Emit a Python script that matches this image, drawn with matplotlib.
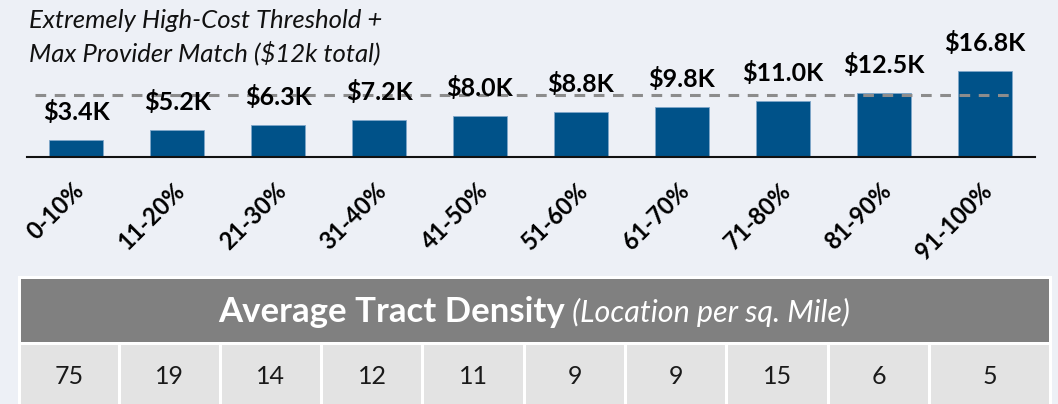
import numpy as np
import matplotlib.pyplot as plt
from matplotlib.patches import Rectangle

plt.rcParams['font.family'] = ['Lato', 'DejaVu Sans']

categories = ['0-10%', '11-20%', '21-30%', '31-40%', '41-50%',
              '51-60%', '61-70%', '71-80%', '81-90%', '91-100%']
support_k = [3.4, 5.2, 6.3, 7.2, 8.0, 8.8, 9.8, 11.0, 12.5, 16.8]
value_labels = ['$3.4K', '$5.2K', '$6.3K', '$7.2K', '$8.0K',
                '$8.8K', '$9.8K', '$11.0K', '$12.5K', '$16.8K']
threshold_k = 12
density = [75, 19, 14, 12, 11, 9, 9, 15, 6, 5]

W, H = 1058, 404
bg = '#EDF0F6'
bar_col = '#005289'

fig = plt.figure(figsize=(W / 100, H / 100), dpi=100, facecolor=bg)

# table layer in pixel coordinates (drawn first, underneath)
tab = fig.add_axes([0, 0, 1, 1])
tab.set_xlim(0, W)
tab.set_ylim(H, 0)
tab.axis('off')
tab.add_patch(Rectangle((18, 276), 1034, 140, facecolor='white', edgecolor='none'))
tab.add_patch(Rectangle((21, 279), 1028, 63, facecolor='#808080', edgecolor='none'))
edges = np.r_[21, 119 + 101.3 * np.arange(9), 1049]
for i, d in enumerate(density):
    x0 = edges[i] + (1.5 if i > 0 else 0)
    x1 = edges[i + 1] - (1.5 if i < len(density) - 1 else 0)
    tab.add_patch(Rectangle((x0, 345), x1 - x0, 70, facecolor='#E3E3E3', edgecolor='none'))
    tab.text((x0 + x1) / 2, 377, str(d), ha='center', va='center', fontsize=18, color='#1a1a1a')

t1 = tab.text(0, 312, 'Average Tract Density', ha='left', va='center',
              fontsize=25, fontweight='bold', color='white')
t2 = tab.text(0, 312, ' (Location per sq. Mile)', ha='left', va='center',
              fontsize=22, fontstyle='italic', color='white')
fig.canvas.draw()
r = fig.canvas.get_renderer()
w1 = t1.get_window_extent(r).width
w2 = t2.get_window_extent(r).width
start = 534 - (w1 + w2) / 2
t1.set_x(start)
t2.set_x(start + w1)

# bar chart
ax = fig.add_axes([27 / W, (H - 157) / H, (1035 - 27) / W, 157 / H])
ax.set_facecolor('none')
x = np.arange(len(categories))
ax.bar(x, support_k, width=0.535, color=bar_col, edgecolor='#7FA6C9', linewidth=0.6, zorder=2)
ax.set_xlim(-0.488, 9.5)
ax.set_ylim(0, 157 / 5.13)
ax.plot([-0.41, 9.27], [threshold_k, threshold_k], color='#8C8C8C', lw=2.2,
        ls=(0, (3.5, 2.8)), zorder=3)
for xi, v, lab in zip(x, support_k, value_labels):
    ax.annotate(lab, (xi, v), xytext=(0, 16), textcoords='offset pixels',
                ha='center', va='bottom', fontsize=18, fontweight='bold',
                color='black', annotation_clip=False, zorder=4)
for xi, lab in zip(x, categories):
    ax.annotate(lab, (xi, 0), xytext=(4, -30), textcoords='offset pixels',
                ha='right', va='center', rotation=45, rotation_mode='anchor',
                fontsize=17, fontweight='bold', annotation_clip=False)
ax.set_xticks([])
ax.set_yticks([])
for s in ['top', 'left', 'right']:
    ax.spines[s].set_visible(False)
ax.spines['bottom'].set_linewidth(1.5)
ax.spines['bottom'].set_color('#111111')

fig.text(29 / W, 1 - 20 / H, 'Extremely High-Cost Threshold +', ha='left', va='center',
         fontsize=18.5, fontstyle='italic', color='#111111')
fig.text(29 / W, 1 - 53 / H, 'Max Provider Match ($12k total)', ha='left', va='center',
         fontsize=18.5, fontstyle='italic', color='#111111')

fig.savefig('out.png', dpi=100, facecolor=bg)
